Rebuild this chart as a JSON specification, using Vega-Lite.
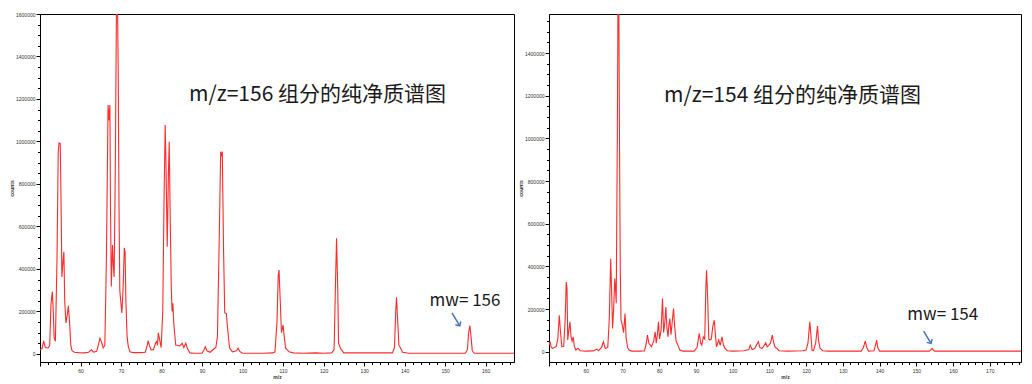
{
  "$schema": "https://vega.github.io/schema/vega-lite/v6.json",
  "padding": {"left": 9, "top": 11, "right": 0, "bottom": 0},
  "autosize": {"type": "pad"},
  "background": "white",
  "config": {
    "view": {"stroke": "black", "strokeWidth": 1},
    "axis": {
      "grid": false, "domainColor": "black", "domainWidth": 1, "tickColor": "black",
      "labelFont": "Liberation Sans", "labelFontSize": 5, "labelColor": "#333",
      "titleFont": "Liberation Sans", "titleFontSize": 5, "titleColor": "#333", "titleFontWeight": "bold",
      "labelPadding": 1
    },
    "concat": {"spacing": 35}
  },
  "bounds": "flush",
  "datasets": {
    "left": [
      {"mz":50.0,"c":20000},{"mz":50.5,"c":25000},{"mz":50.9,"c":62000},{"mz":51.3,"c":30000},{"mz":52.0,"c":28000},{"mz":52.4,"c":40000},{"mz":52.7,"c":230000},{"mz":52.9,"c":270000},{"mz":53.05,"c":293000},{"mz":53.25,"c":207000},{"mz":53.5,"c":75000},{"mz":53.8,"c":60000},{"mz":54.2,"c":450000},{"mz":54.5,"c":950000},{"mz":54.7,"c":993000},{"mz":55.0,"c":990000},{"mz":55.2,"c":710000},{"mz":55.4,"c":362000},{"mz":55.7,"c":440000},{"mz":55.9,"c":481000},{"mz":56.1,"c":250000},{"mz":56.4,"c":146000},{"mz":56.7,"c":180000},{"mz":57.0,"c":226000},{"mz":57.3,"c":150000},{"mz":57.6,"c":40000},{"mz":57.9,"c":15000},{"mz":58.5,"c":8000},{"mz":59.5,"c":6000},{"mz":61.0,"c":5000},{"mz":62.0,"c":8000},{"mz":62.7,"c":19000},{"mz":63.2,"c":8000},{"mz":64.0,"c":12000},{"mz":64.5,"c":50000},{"mz":64.8,"c":74000},{"mz":65.2,"c":55000},{"mz":65.6,"c":28000},{"mz":66.0,"c":40000},{"mz":66.4,"c":450000},{"mz":66.8,"c":1172000},{"mz":67.0,"c":1100000},{"mz":67.25,"c":1172000},{"mz":67.4,"c":700000},{"mz":67.6,"c":317000},{"mz":67.9,"c":513000},{"mz":68.1,"c":420000},{"mz":68.3,"c":362000},{"mz":68.6,"c":900000},{"mz":68.9,"c":1700000},{"mz":69.1,"c":1700000},{"mz":69.3,"c":1350000},{"mz":69.5,"c":700000},{"mz":69.7,"c":300000},{"mz":69.9,"c":254000},{"mz":70.2,"c":193000},{"mz":70.5,"c":300000},{"mz":70.8,"c":499000},{"mz":71.0,"c":480000},{"mz":71.2,"c":250000},{"mz":71.5,"c":80000},{"mz":71.8,"c":34000},{"mz":72.2,"c":10000},{"mz":73.0,"c":6000},{"mz":75.0,"c":6000},{"mz":76.0,"c":8000},{"mz":76.4,"c":35000},{"mz":76.7,"c":63000},{"mz":77.0,"c":40000},{"mz":77.4,"c":19000},{"mz":78.0,"c":20000},{"mz":78.5,"c":50000},{"mz":78.8,"c":58000},{"mz":79.0,"c":40000},{"mz":79.2,"c":99000},{"mz":79.5,"c":70000},{"mz":79.9,"c":30000},{"mz":80.3,"c":200000},{"mz":80.6,"c":700000},{"mz":80.9,"c":1078000},{"mz":81.1,"c":900000},{"mz":81.4,"c":505000},{"mz":81.7,"c":850000},{"mz":81.9,"c":999000},{"mz":82.1,"c":700000},{"mz":82.4,"c":317000},{"mz":82.6,"c":200000},{"mz":82.8,"c":238000},{"mz":83.0,"c":150000},{"mz":83.5,"c":42000},{"mz":84.0,"c":40000},{"mz":84.5,"c":38000},{"mz":85.1,"c":50000},{"mz":85.5,"c":30000},{"mz":86.0,"c":50000},{"mz":86.4,"c":25000},{"mz":87.0,"c":5000},{"mz":88.0,"c":3000},{"mz":90.0,"c":3000},{"mz":90.5,"c":20000},{"mz":90.8,"c":34000},{"mz":91.2,"c":15000},{"mz":92.0,"c":8000},{"mz":92.9,"c":23000},{"mz":93.4,"c":30000},{"mz":93.8,"c":80000},{"mz":94.2,"c":500000},{"mz":94.6,"c":952000},{"mz":94.8,"c":930000},{"mz":95.0,"c":952000},{"mz":95.3,"c":500000},{"mz":95.6,"c":193000},{"mz":96.0,"c":191000},{"mz":96.3,"c":120000},{"mz":96.8,"c":28000},{"mz":97.5,"c":10000},{"mz":98.5,"c":15000},{"mz":98.9,"c":27000},{"mz":99.3,"c":12000},{"mz":100.0,"c":3000},{"mz":105.0,"c":3000},{"mz":107.5,"c":5000},{"mz":108.0,"c":10000},{"mz":108.5,"c":150000},{"mz":108.8,"c":370000},{"mz":109.0,"c":395000},{"mz":109.3,"c":250000},{"mz":109.6,"c":100000},{"mz":110.0,"c":136000},{"mz":110.3,"c":80000},{"mz":110.6,"c":28000},{"mz":111.0,"c":20000},{"mz":111.5,"c":10000},{"mz":112.5,"c":5000},{"mz":115.0,"c":3000},{"mz":118.0,"c":5000},{"mz":120.0,"c":3000},{"mz":122.0,"c":5000},{"mz":122.6,"c":20000},{"mz":122.9,"c":300000},{"mz":123.2,"c":544000},{"mz":123.5,"c":300000},{"mz":123.7,"c":50000},{"mz":124.2,"c":25000},{"mz":125.0,"c":5000},{"mz":130.0,"c":5000},{"mz":135.0,"c":5000},{"mz":137.0,"c":5000},{"mz":137.5,"c":30000},{"mz":137.8,"c":200000},{"mz":138.0,"c":267000},{"mz":138.3,"c":150000},{"mz":138.6,"c":40000},{"mz":139.0,"c":28000},{"mz":139.5,"c":8000},{"mz":141.0,"c":3000},{"mz":150.0,"c":3000},{"mz":155.0,"c":3000},{"mz":155.5,"c":20000},{"mz":155.8,"c":100000},{"mz":156.1,"c":133000},{"mz":156.4,"c":80000},{"mz":156.7,"c":15000},{"mz":157.2,"c":3000},{"mz":167.0,"c":3000}
    ],
    "right": [
      {"mz":50.0,"c":30000},{"mz":50.3,"c":47000},{"mz":50.6,"c":20000},{"mz":51.0,"c":16000},{"mz":51.5,"c":20000},{"mz":52.0,"c":25000},{"mz":52.4,"c":60000},{"mz":52.8,"c":171000},{"mz":53.1,"c":100000},{"mz":53.5,"c":23000},{"mz":54.0,"c":25000},{"mz":54.4,"c":150000},{"mz":54.7,"c":327000},{"mz":54.9,"c":300000},{"mz":55.1,"c":55000},{"mz":55.4,"c":100000},{"mz":55.7,"c":140000},{"mz":56.0,"c":70000},{"mz":56.3,"c":50000},{"mz":56.6,"c":70000},{"mz":56.9,"c":25000},{"mz":57.3,"c":8000},{"mz":57.9,"c":16000},{"mz":58.5,"c":5000},{"mz":60.0,"c":3000},{"mz":62.0,"c":4000},{"mz":63.0,"c":12000},{"mz":63.5,"c":5000},{"mz":64.3,"c":20000},{"mz":64.8,"c":47000},{"mz":65.3,"c":15000},{"mz":66.0,"c":20000},{"mz":66.4,"c":150000},{"mz":66.8,"c":436000},{"mz":67.1,"c":250000},{"mz":67.3,"c":109000},{"mz":67.6,"c":200000},{"mz":67.9,"c":343000},{"mz":68.1,"c":300000},{"mz":68.3,"c":227000},{"mz":68.6,"c":1000000},{"mz":68.8,"c":1700000},{"mz":69.0,"c":1700000},{"mz":69.2,"c":958000},{"mz":69.4,"c":400000},{"mz":69.6,"c":148000},{"mz":69.9,"c":130000},{"mz":70.3,"c":90000},{"mz":70.7,"c":179000},{"mz":71.0,"c":65000},{"mz":71.4,"c":20000},{"mz":71.8,"c":8000},{"mz":72.5,"c":3000},{"mz":75.0,"c":3000},{"mz":76.0,"c":5000},{"mz":76.5,"c":40000},{"mz":76.8,"c":78000},{"mz":77.2,"c":40000},{"mz":77.9,"c":24000},{"mz":78.5,"c":50000},{"mz":78.9,"c":93000},{"mz":79.2,"c":40000},{"mz":79.5,"c":80000},{"mz":79.8,"c":140000},{"mz":80.1,"c":60000},{"mz":80.5,"c":100000},{"mz":80.9,"c":250000},{"mz":81.2,"c":90000},{"mz":81.5,"c":130000},{"mz":81.8,"c":210000},{"mz":82.1,"c":110000},{"mz":82.4,"c":70000},{"mz":82.6,"c":120000},{"mz":82.9,"c":156000},{"mz":83.2,"c":80000},{"mz":83.6,"c":150000},{"mz":83.9,"c":203000},{"mz":84.2,"c":120000},{"mz":84.6,"c":50000},{"mz":85.1,"c":31000},{"mz":85.6,"c":8000},{"mz":86.5,"c":3000},{"mz":89.5,"c":3000},{"mz":90.3,"c":20000},{"mz":90.9,"c":86000},{"mz":91.3,"c":40000},{"mz":91.6,"c":31000},{"mz":92.0,"c":70000},{"mz":92.4,"c":60000},{"mz":92.7,"c":300000},{"mz":92.9,"c":382000},{"mz":93.2,"c":250000},{"mz":93.5,"c":60000},{"mz":93.8,"c":55000},{"mz":94.2,"c":60000},{"mz":94.6,"c":120000},{"mz":95.0,"c":148000},{"mz":95.3,"c":80000},{"mz":95.6,"c":23000},{"mz":96.2,"c":55000},{"mz":96.6,"c":30000},{"mz":97.1,"c":70000},{"mz":97.5,"c":30000},{"mz":97.9,"c":17000},{"mz":98.5,"c":5000},{"mz":100.0,"c":3000},{"mz":103.0,"c":5000},{"mz":104.4,"c":10000},{"mz":104.8,"c":31000},{"mz":105.3,"c":10000},{"mz":106.0,"c":15000},{"mz":106.6,"c":35000},{"mz":107.0,"c":47000},{"mz":107.4,"c":20000},{"mz":108.0,"c":15000},{"mz":108.6,"c":30000},{"mz":109.0,"c":42000},{"mz":109.4,"c":23000},{"mz":109.8,"c":30000},{"mz":110.3,"c":40000},{"mz":110.8,"c":78000},{"mz":111.2,"c":40000},{"mz":111.6,"c":20000},{"mz":112.0,"c":17000},{"mz":112.6,"c":5000},{"mz":115.0,"c":3000},{"mz":119.0,"c":5000},{"mz":120.0,"c":8000},{"mz":120.5,"c":40000},{"mz":121.0,"c":140000},{"mz":121.3,"c":80000},{"mz":121.6,"c":8000},{"mz":122.0,"c":5000},{"mz":122.6,"c":40000},{"mz":123.1,"c":120000},{"mz":123.4,"c":50000},{"mz":123.8,"c":17000},{"mz":124.5,"c":5000},{"mz":126.0,"c":3000},{"mz":135.0,"c":3000},{"mz":135.6,"c":20000},{"mz":136.1,"c":50000},{"mz":136.5,"c":20000},{"mz":137.0,"c":3000},{"mz":138.5,"c":5000},{"mz":139.0,"c":40000},{"mz":139.2,"c":55000},{"mz":139.5,"c":20000},{"mz":140.0,"c":3000},{"mz":153.5,"c":3000},{"mz":154.0,"c":10000},{"mz":154.3,"c":16000},{"mz":154.6,"c":8000},{"mz":155.0,"c":3000},{"mz":178.5,"c":3000}
    ]
  },
  "hconcat": [
    {
      "width": 474, "height": 348,
      "encoding": {
        "x": {"field": "mz", "type": "quantitative", "title": "m/z",
          "scale": {"domain": [50, 167], "nice": false, "zero": false},
          "axis": {"values": [50,52,54,56,58,60,62,64,66,68,70,72,74,76,78,80,82,84,86,88,90,92,94,96,98,100,102,104,106,108,110,112,114,116,118,120,122,124,126,128,130,132,134,136,138,140,142,144,146,148,150,152,154,156,158,160,162,164,166],
            "labelExpr": "datum.value % 10 === 0 && datum.value > 50 ? datum.label : ''",
            "tickSize": {"condition": {"test": "datum.value % 10 === 0", "value": 4}, "value": 2.5},
            "labelPadding": 2, "titlePadding": 1}
        },
        "y": {"field": "c", "type": "quantitative", "title": "counts",
          "scale": {"domain": [-38000, 1600000], "nice": false, "zero": false},
          "axis": {"values": [0,50000,100000,150000,200000,250000,300000,350000,400000,450000,500000,550000,600000,650000,700000,750000,800000,850000,900000,950000,1000000,1050000,1100000,1150000,1200000,1250000,1300000,1350000,1400000,1450000,1500000,1550000,1600000],
            "labelExpr": "datum.value % 200000 === 0 ? datum.label : ''",
            "format": "d",
            "tickSize": {"condition": {"test": "datum.value % 200000 === 0", "value": 4}, "value": 2.5},
            "titlePadding": 1}
        }
      },
      "layer": [
        {
          "data": {"name": "left"},
          "mark": {"type": "line", "color": "#ff2a2a", "strokeWidth": 1.1, "clip": true}
        },
        {
          "data": {"values": [{"mz": 118.5, "c": 1219000, "t": "m/z=156 组分的纯净质谱图"}]},
          "mark": {"type": "text", "font": "Noto Sans CJK SC", "fontSize": 21, "color": "#1a1a1a", "align": "center", "baseline": "middle"},
          "encoding": {"text": {"field": "t"}}
        },
        {
          "data": {"values": [{"mz": 154.9, "c": 249000, "t": "mw= 156"}]},
          "mark": {"type": "text", "font": "Noto Sans CJK SC", "fontSize": 17, "color": "#1a1a1a", "align": "center", "baseline": "middle"},
          "encoding": {"text": {"field": "t"}}
        },
        {
          "data": {"values": [{"mz": 151.7, "c": 193000, "mz2": 153.6, "c2": 132000}]},
          "mark": {"type": "rule", "color": "#4472C4", "strokeWidth": 1.5},
          "encoding": {"x2": {"field": "mz2"}, "y2": {"field": "c2"}}
        },
        {
          "data": {"values": [{"mz": 153.6, "c": 132000}]},
          "mark": {"type": "point", "shape": "M-1,-1L0,0L1,-1", "filled": false, "stroke": "#4472C4", "strokeWidth": 1.5, "size": 40, "angle": 329, "opacity": 1}
        }
      ]
    },
    {
      "width": 472, "height": 348,
      "encoding": {
        "x": {"field": "mz", "type": "quantitative", "title": "m/z",
          "scale": {"domain": [50, 178.5], "nice": false, "zero": false},
          "axis": {"values": [50,52,54,56,58,60,62,64,66,68,70,72,74,76,78,80,82,84,86,88,90,92,94,96,98,100,102,104,106,108,110,112,114,116,118,120,122,124,126,128,130,132,134,136,138,140,142,144,146,148,150,152,154,156,158,160,162,164,166,168,170,172,174,176,178],
            "labelExpr": "datum.value % 10 === 0 && datum.value > 50 ? datum.label : ''",
            "tickSize": {"condition": {"test": "datum.value % 10 === 0", "value": 4}, "value": 2.5},
            "labelPadding": 2, "titlePadding": 1}
        },
        "y": {"field": "c", "type": "quantitative", "title": "counts",
          "scale": {"domain": [-48000, 1583000], "nice": false, "zero": false},
          "axis": {"values": [0,50000,100000,150000,200000,250000,300000,350000,400000,450000,500000,550000,600000,650000,700000,750000,800000,850000,900000,950000,1000000,1050000,1100000,1150000,1200000,1250000,1300000,1350000,1400000,1450000,1500000,1550000],
            "labelExpr": "datum.value % 200000 === 0 ? datum.label : ''",
            "format": "d",
            "tickSize": {"condition": {"test": "datum.value % 200000 === 0", "value": 4}, "value": 2.5},
            "titlePadding": 1}
        }
      },
      "layer": [
        {
          "data": {"name": "right"},
          "mark": {"type": "line", "color": "#ff2a2a", "strokeWidth": 1.1, "clip": true}
        },
        {
          "data": {"values": [{"mz": 116.3, "c": 1200000, "t": "m/z=154 组分的纯净质谱图"}]},
          "mark": {"type": "text", "font": "Noto Sans CJK SC", "fontSize": 21, "color": "#1a1a1a", "align": "center", "baseline": "middle"},
          "encoding": {"text": {"field": "t"}}
        },
        {
          "data": {"values": [{"mz": 157.2, "c": 171000, "t": "mw= 154"}]},
          "mark": {"type": "text", "font": "Noto Sans CJK SC", "fontSize": 17, "color": "#1a1a1a", "align": "center", "baseline": "middle"},
          "encoding": {"text": {"field": "t"}}
        },
        {
          "data": {"values": [{"mz": 152.0, "c": 96700, "mz2": 154.0, "c2": 39000}]},
          "mark": {"type": "rule", "color": "#4472C4", "strokeWidth": 1.5},
          "encoding": {"x2": {"field": "mz2"}, "y2": {"field": "c2"}}
        },
        {
          "data": {"values": [{"mz": 154.0, "c": 39000}]},
          "mark": {"type": "point", "shape": "M-1,-1L0,0L1,-1", "filled": false, "stroke": "#4472C4", "strokeWidth": 1.5, "size": 40, "angle": 329, "opacity": 1}
        }
      ]
    }
  ]
}
